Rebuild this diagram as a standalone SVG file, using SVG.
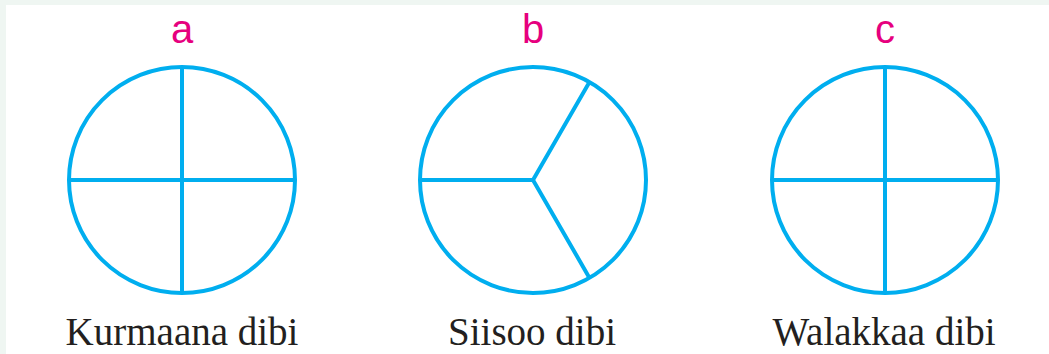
<svg xmlns="http://www.w3.org/2000/svg" width="1049" height="354" viewBox="0 0 1049 354">
<style>
.c{fill:none;stroke:#00aeef;stroke-width:4}
.s{stroke:#00aeef;stroke-width:4;fill:none}
.l{font-family:"Liberation Sans",Arial,sans-serif;font-size:40px;fill:#e6007e;text-anchor:middle}
.t{font-family:"Liberation Serif","Times New Roman",serif;font-size:39px;fill:#231f20;text-anchor:middle}
</style>
<rect x="0" y="0" width="1049" height="354" fill="#eff6f2"/>
<rect x="6" y="5" width="1043" height="349" fill="#ffffff"/>
<g id="node-a">
<text class="l" x="182" y="43">a</text>
<circle class="c" cx="182" cy="180" r="113"/>
<path class="s" d="M182 67V293M69 180H295"/>
<text class="t" x="182" y="345">Kurmaana dibi</text>
</g>
<g id="node-b">
<text class="l" x="533" y="43">b</text>
<circle class="c" cx="533" cy="180" r="113"/>
<path class="s" d="M420 180H533L589.5 82.1M533 180L589.5 277.9"/>
<text class="t" x="532" y="345">Siisoo dibi</text>
</g>
<g id="node-c">
<text class="l" x="885" y="43">c</text>
<circle class="c" cx="885" cy="180" r="113"/>
<path class="s" d="M885 67V293M772 180H998"/>
<text class="t" x="884" y="345">Walakkaa dibi</text>
</g>
<g id="connectors"></g>
</svg>
